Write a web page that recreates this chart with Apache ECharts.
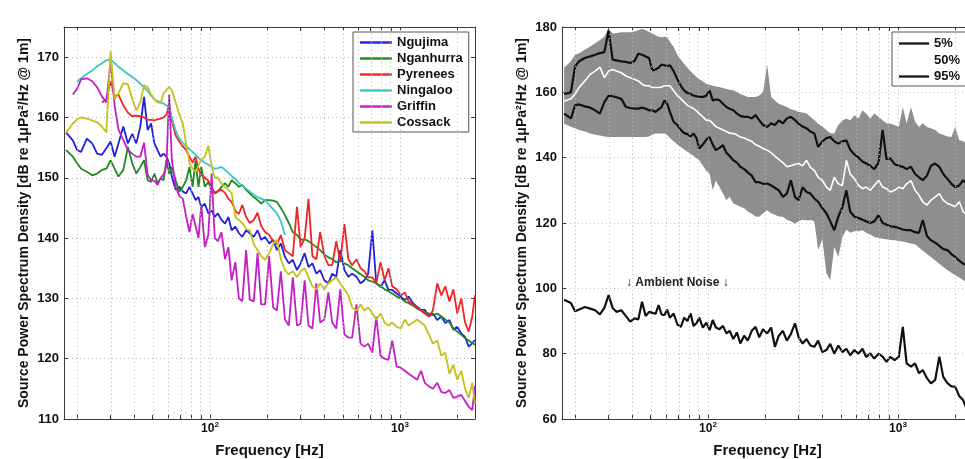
<!DOCTYPE html>
<html><head><meta charset="utf-8">
<script src="https://cdn.jsdelivr.net/npm/echarts@6.0.0/dist/echarts.min.js"></script>
<style>html,body{margin:0;padding:0;background:#fff}#c{width:965px;height:459px}</style>
</head><body><div id="c"></div>
<script>
// ---------- data ----------
const freq = [17.5,19,20,21,22.5,24,25.5,27,28.5,30, 31.5,33,35,37,39,41,43,45,47,49,
  51,53,55,57,59,61,63,66,69,72, 75,78,81,84,87,90,94,98,102,106,
  110,115,120,125,130,136,142,148,155,162, 170,178,186,195,205,215,225,236,248,260,
  273,287,300,315,330,346,363,380,400,420, 440,462,485,510,535,560,590,620,650,680,
  715,750,790,830,870,910,960,1010,1060,1110, 1170,1230,1290,1350,1420,1490,1570,1650,1730,1820,
  1910,2000,2100,2200,2300,2400,2480];

const ngujima = [157.5,156.2,154.6,154.3,156.5,155.7,154,153.8,154.9,156,
  153.5,155.7,158.5,155.7,157.3,155.7,158.5,163.4,157.9,159,
  155.7,154.6,153.5,154,153.5,152.4,150.2,148,148.5,147.7,
  147.4,148.5,147.4,146.3,146.8,145.1,145.7,144.1,144.6,143.5,
  144.1,143,142.4,143.5,141.3,141.9,140.8,140.2,141.3,140.8,
  140.2,141.3,139.7,140.2,139.1,139.7,138,139.1,136.9,135.8,
  136.4,134.7,135.8,137.5,135.2,135.8,134.1,134.7,133,132.5,
  134.1,133.6,138,134.7,133.6,134.1,133.6,132.5,133,134.1,
  141.3,132.5,131.9,133,131.4,131.4,130.8,130.3,129.7,130.3,
  129.2,128.6,128.1,128.1,127,127.5,126.4,127,125.9,126.4,
  124.8,125.3,124.2,123.6,122,122.6,123.1];

const nganhurra = [154.6,153.5,152.4,151.5,151,150.4,150.7,151.3,151.5,152.9,
  151.5,150.2,151.3,155.1,152.4,150.7,151.8,152.9,149.6,149.3,
  150.7,149.1,149.9,149.6,152.9,150.7,151.8,149.6,147.7,148.5,
  149.6,151.8,148.5,152.9,148.5,151.8,148.5,149.3,148,147.4,
  147.7,148.5,149.1,148.5,149.6,149.1,148.5,148.8,148,147.4,
  146.8,146.3,145.7,146.3,146.3,146.2,146,145,143.8,142.5,
  141,140.5,139.7,139.8,139.5,139,138.5,138,137.3,136.8,
  136.5,136,136.3,135.8,135.5,135,134.5,134,133.6,133,
  132.8,132.5,132,131.5,131.2,130.8,130.3,130,129.5,129.2,
  128.8,128.3,128,127.7,127.5,127.2,127.5,127,126.5,126,
  125,124.5,124,123.4,123,122.6,122.3];

const pyrenees = [null,null,null,null,null,null,null,162.5,163,166,
  163.5,163.8,162,160.8,160.2,160.3,160.2,160,159.6,159.6,
  159.5,159.7,159.8,160,160.5,162,159.5,157,156,155.2,
  154.6,153.5,152.5,153.5,151.5,150.5,150,149.5,148.5,147.5,
  147.8,148,147.5,146.5,146,144.5,144,145.5,143.5,142.5,
  143,144.2,142,141,140.5,139.5,139,140.5,138,137.5,
  137,145.2,138.5,140,146.5,137,136.5,141,137,135.5,
  135.5,139.5,136,142.3,136.5,135.5,136.5,135,134.5,133.5,
  133.5,132.5,136,133,135,132,131.5,130.5,131,129.5,
  129,128.5,128,127.5,127,128,132.5,130.5,132,129.5,
  131.5,127.5,130,126,124.5,127,130.5];

const ningaloo = [null,null,165.9,166.5,167.2,167.8,168.5,169,169.5,169.6,
  169,168.4,167.8,167.2,166.7,166.2,165.6,165,164.4,163.6,
  163,162.7,162.5,162.3,162,161.8,160,157.8,156.5,155.8,
  155.2,154.8,154.3,153.8,153.3,152.9,152.5,152.2,151.8,151.5,
  151.6,151.8,151.3,150.8,150.3,149.8,149.1,148.7,148.2,147.7,
  147.2,146.8,146.5,146.3,145.5,144.8,144.1,142.8,140.5,null,
  null,null,null,null,null,null,null,null,null,null,
  null,null,null,null,null,null,null,null,null,null,
  null,null,null,null,null,null,null,null,null,null,
  null,null,null,null,null,null,null,null,null,null,
  null,null,null,null,null,null,null];

const griffin = [null,163.8,164.8,166.3,166.5,166,165,163.5,162.5,169.3,
  162,158,156.3,154.6,154,153.5,153.5,155.8,150.5,149.6,
  149.5,148.8,150,150.5,152,163.8,153,148.5,147,146.5,
  143.5,141,144,142,140,145.5,138.5,140.5,150.7,140,
  139.5,141,136.5,138.5,133,136,130,129.5,138,129.8,
  129.5,137.5,129,129,137,128.5,128,134.5,126.5,125.5,
  133.5,125.5,125.8,133,125.5,125,132.5,126,126.5,131,
  126,125,131.5,124,123.5,123.5,129,122.5,122,122.5,
  121,127,120.5,120,119.8,123,118.7,118.5,118,117.5,
  117,116.5,118,116,115.4,115,116,114.5,114.3,114.8,
  113.5,113.7,114,113,112,111.5,115.5];

const cossack = [157.5,159,159.7,160,159.8,159.5,159.2,158.5,157.5,171,
  163,164,165.7,165.5,163,161.2,162.5,165.4,165,163.8,
  163,162.5,162.4,164,164.5,165.1,164.5,162.5,160.5,159,
  155.5,152.5,151.5,151,152,153,153.5,155.3,152,150,
  150,149,148.5,148,147.5,143.5,143,142.5,141.5,141.3,
  139,138,137,136.4,137.5,139,139.7,136.5,134.7,134,
  134.5,133.5,134.5,135,133.5,132,131.5,132.5,131.5,132.5,
  133,133.5,132.5,131.5,130.5,128.5,128,129,128,128.5,
  127.5,126.5,127.5,126,125.5,126,125.3,125,126.5,125.5,
  126,126.5,126,125.5,124,122.5,123,120.5,121,117.5,
  119,116.5,118,115,113.5,116,112.5];

const p95 = [159.5,160,168,169.5,170.5,171,171.5,172,172.3,179,
  170,169.8,169.5,169.3,169,169.5,171.8,171.5,171,170.5,
  166.7,167,167.5,168.5,168.3,168,168.3,166.5,164,162,
  160.5,159.8,159.5,159,158.8,158.6,158.6,159,160.6,157.5,
  157.8,157.6,156.5,155.5,155,154.5,153.5,152.8,152.5,152.5,
  152,153,151.5,150,149.4,150.5,150,151.4,150.5,152,
  152.5,151.5,150.4,149.5,149,148,147.4,143.3,145,146,
  146.3,145,144.3,145,145.3,142.5,141,140,138.8,138.2,
  137.5,136.5,138.5,148.5,139.5,139.8,138,137.5,137.2,136.5,
  137.2,135,134,133.1,134.5,137.5,138.2,137.2,135,133.5,
  132,131,131.5,133.1,132,131,130.5];

const p50 = [157.3,158,159.5,161.5,163.5,165.5,166.5,167.7,164.5,166.5,
  167,166.5,166,165,164.5,164,163.5,162.5,162,162,
  161.5,161.5,161.5,161.6,162,162,162,160.5,159,158,
  157,156,155.5,155,154.3,153.5,152.5,151.5,151.4,150.5,
  149.5,149,148.5,148,147.5,147.4,147,146.3,146,145.5,
  145,144,143.5,142.8,142.3,141.5,140.5,139.5,138.5,137.2,
  137.5,138,138.2,137.5,139.2,137,136.1,134,133,131,
  130,134,132,131.5,139.2,135,133.5,131.5,130.5,131,
  130,131.5,133,131,130.5,129.5,130,131,130.5,132,
  133,130,128.5,126.5,125.5,127,128,129,127,126,
  125.5,125,126.5,123.5,122.5,121.5,121];

const p5 = [153.5,152,156,156.3,155.7,155.3,154.5,153.5,157,159,
  158.8,158.5,158,155.5,155.2,155,155,155.3,155,154.5,
  154.5,154,154.8,155.5,157.5,156.5,154,151,150,148.5,
  147.5,147.2,146.5,147.4,146,142.8,144,145.5,146.3,144,
  142.3,143,143.8,141.5,140.5,139.2,138.5,137.2,136.5,135.5,
  134.5,132.5,132.5,132,132.1,131.5,130.8,130,128,129,
  133.1,128,127,131,129.5,129,127.5,126.5,124.5,123,
  120.5,117.8,121.9,124.9,130,123.5,121.9,121.5,121,120.5,
  120,120.5,122.4,120,119.5,119,118.8,118.5,118,117.8,
  117.8,117.2,117,120.9,116,114.7,114,113,112,111.7,
  110.5,109.6,108.5,107.6,107,106.5,106];

const bandMax = [167.5,169.5,171.5,172,173,174,175,176,177,179.5,
  178,178.2,178.4,178.4,178.4,178.6,179,179.5,179,178.5,
  178,177.5,177,176.9,177,176.9,175.5,173.9,171.5,170,
  168.7,167.5,166.5,165.5,164.7,164,163.3,162.6,162.3,162,
  161.8,161.6,161.3,161,160.8,160.6,160,159.5,159,158.6,
  158.6,158.6,159,160,168.5,158.6,157.5,156.5,156,155.5,
  154.8,154.5,154,153.8,153.5,152.5,151.5,150.4,149.5,148.5,
  147.5,147.4,150,151.4,152,151.4,153,152,154.5,153.5,
  152,153.5,152.5,151.4,150.5,150.4,150,149.4,155.5,150.5,
  155.5,151,149.4,150.5,149.4,149,148.5,147.4,147,146.5,
  146.3,149.4,145.3,145,144.5,144,144];

const bandMin = [150.4,149.5,149,148.5,148,147.4,147,146.8,146.5,146.3,
  146.3,146.3,146.3,146.3,146.3,146.3,146.3,146.3,146.3,146.5,
  147,147.4,147.4,147.4,147.4,147,146,145,144,143.3,
  142.5,141.8,141.2,140.5,139.8,139.2,137.5,136,135.1,130,
  133,131,129,127,128,126,125.5,125,124.5,123.5,
  122.8,122,121.9,123,123.9,123,122.5,122,121.9,121,
  120.5,119.8,120.5,121,120.8,120.9,120.5,111.7,115,104.6,
  102.5,112.7,109.6,115.7,118,117,117.5,117.5,117.8,117,
  116.5,115.7,115.5,115.2,115,114.8,114.7,114.5,114.3,114,
  113.7,113.5,112.5,111.5,110.5,109.6,108.5,107.5,106.5,105.6,
  104.8,104,103.3,102.5,102,101.5,101];

const ambient = [96.5,95.5,93,93.5,94.3,93.8,93.3,92,94,97.9,
  94,92.8,93.3,91.5,89.8,90.8,90.5,95.9,91.5,92.8,
  92.5,92.2,94.9,92,91.8,93.5,91,92.3,89,88.2,
  91,90,92.3,88.5,89.3,91,88,89.5,87.2,90.3,
  88,87.5,88.5,86.2,87,84.5,86.5,83.1,85.5,84,
  87,88.2,85,87.5,86.2,88,82.1,85.5,87,84,
  86,89.3,85,83.1,84.5,82.5,82.1,84,80.5,81.1,
  83,80,82.5,80.5,81.5,79.5,81.1,80,81.5,79,
  80.1,78.5,80,79.1,77.5,79,78,79,88.2,77,
  76,77,74,75,72.5,70.9,72,79.1,72.9,71,
  70,69.9,67,65.8,63,64,62];

const leftNames = ['Ngujima','Nganhurra','Pyrenees','Ningaloo','Griffin','Cossack'];
const leftSeriesValues = [ngujima, nganhurra, pyrenees, ningaloo, griffin, cossack];
const rightNames = ['5%','50%','95%'];
const xLabelFreqs = [100, 1000];
const gridFreqs = [20,30,40,50,60,70,80,90,100,200,300,400,500,600,700,800,900,1000,2000];
const ambientLabel = {text: '\u2193 Ambient Noise \u2193', freq: 69, value: 101.6};

// ---------- styling ----------
const FONT = "'Liberation Sans', Arial, Helvetica, sans-serif";
const leftColors = ['#2020e0','#1e8a1e','#f02424','#38c6c6','#c41ec4','#c2c21a'];
const AX = '#3a3a3a';
const L = Math.log10;
const fMin = 17.06, fMax = 2481;
const xy = vals => freq.map((f, i) => [L(f), vals[i]]).filter(p => p[1] != null);
// value-first pairs (stacking uses the first numeric dimension)
const yx = vals => freq.map((f, i) => [vals[i], L(f)]);
const LEG_ICON = 'path://M0,0H32V2.4H0Z';

function xAxes(gridIndex) {
  const common = {
    type: 'value', gridIndex, min: L(fMin), max: L(fMax),
    axisLine: {show: true, onZero: false, lineStyle: {color: AX, width: 1}},
    axisTick: {show: true, inside: true, length: 4, customValues: gridFreqs.map(L), lineStyle: {color: AX}},
    splitLine: {show: false}
  };
  return [
    Object.assign({}, common, {
      position: 'bottom',
      axisLabel: {
        customValues: xLabelFreqs.map(L), margin: 2,
        formatter: v => '{a|10}{b|' + Math.round(v) + '}',
        rich: {
          a: {fontSize: 12, fontWeight: 'bold', color: '#111', lineHeight: 15, fontFamily: FONT},
          b: {fontSize: 8, fontWeight: 'bold', color: '#111', lineHeight: 5, verticalAlign: 'top', fontFamily: FONT}
        }
      },
      name: 'Frequency [Hz]', nameLocation: 'middle', nameGap: 24,
      nameTextStyle: {fontSize: 15, fontWeight: 'bold', color: '#111', fontFamily: FONT}
    }),
    Object.assign({}, common, {position: 'top', axisLabel: {show: false}})
  ];
}
function yAxes(gridIndex, min, max, interval) {
  const common = {
    type: 'value', gridIndex, min, max, interval,
    axisLine: {show: true, onZero: false, lineStyle: {color: AX, width: 1}},
    axisTick: {show: true, inside: true, length: 4, lineStyle: {color: AX}}
  };
  return [
    Object.assign({}, common, {
      position: 'left',
      axisLabel: {fontSize: 13, fontWeight: 'bold', color: '#111', margin: 5, showMaxLabel: max % interval === 0, fontFamily: FONT},
      splitLine: {show: true, lineStyle: {color: '#bdbdbd', type: [1, 3], width: 1}},
      name: 'Source Power Spectrum Density [dB re 1\u03bcPa\u00b2/Hz @ 1m]',
      nameLocation: 'middle', nameGap: 33, nameRotate: 90,
      nameTextStyle: {fontSize: 14, fontWeight: 'bold', color: '#111', fontFamily: FONT}
    }),
    Object.assign({}, common, {position: 'right', axisLabel: {show: false}, splitLine: {show: false}})
  ];
}
function gridLineSeries(axisIndex) {
  return {
    type: 'line', xAxisIndex: axisIndex, yAxisIndex: axisIndex, data: [], z: 1, silent: true,
    markLine: {
      symbol: 'none', silent: true, animation: false, label: {show: false},
      lineStyle: {color: '#bdbdbd', type: [1, 3], width: 1},
      emphasis: {disabled: true},
      data: gridFreqs.map(f => ({xAxis: L(f)}))
    }
  };
}

const series = [gridLineSeries(0)];
leftNames.forEach((name, i) => {
  series.push({
    type: 'line', name, xAxisIndex: 0, yAxisIndex: 0, data: xy(leftSeriesValues[i]),
    symbol: 'none', z: 3, silent: true,
    lineStyle: {color: leftColors[i], width: 1.8}, itemStyle: {color: leftColors[i]}
  });
});
series.push(gridLineSeries(2));
series.push({
  type: 'line', xAxisIndex: 2, yAxisIndex: 2, data: yx(bandMin), encode: {x: 1, y: 0},
  stack: 'band', symbol: 'none', z: 2, silent: true, lineStyle: {opacity: 0}
});
series.push({
  type: 'line', xAxisIndex: 2, yAxisIndex: 2,
  data: freq.map((f, i) => [bandMax[i] - bandMin[i], L(f)]), encode: {x: 1, y: 0},
  stack: 'band', symbol: 'none', z: 2, silent: true, lineStyle: {opacity: 0},
  areaStyle: {color: '#8e8e8e', opacity: 1}
});
const rightVals = [p5, p50, p95];
const rightColors = ['#111111', '#ffffff', '#111111'];
rightNames.forEach((name, i) => {
  series.push({
    type: 'line', name, xAxisIndex: 2, yAxisIndex: 2, data: xy(rightVals[i]),
    symbol: 'none', z: 3, silent: true,
    lineStyle: {color: rightColors[i], width: i === 1 ? 1.6 : 2.2}, itemStyle: {color: rightColors[i]}
  });
});
series.push({
  type: 'line', xAxisIndex: 2, yAxisIndex: 2, data: xy(ambient),
  symbol: 'none', z: 3, silent: true, lineStyle: {color: '#111', width: 2.2},
  markPoint: {
    symbol: 'rect', symbolSize: 1, itemStyle: {color: 'rgba(0,0,0,0)'}, silent: true, animation: false,
    label: {show: true, position: 'inside', formatter: ambientLabel.text, fontSize: 12, fontWeight: 'bold', color: '#222', fontFamily: FONT},
    data: [{coord: [L(ambientLabel.freq), ambientLabel.value]}]
  }
});

const legendCommon = {
  orient: 'vertical', itemHeight: 14, selectedMode: false, icon: LEG_ICON,
  itemStyle: {borderWidth: 0},
  borderColor: '#555', borderWidth: 1, backgroundColor: '#fff',
  textStyle: {fontSize: 13, fontWeight: 'bold', color: '#111', fontFamily: FONT}
};

const option = {
  animation: false,
  textStyle: {fontFamily: FONT},
  grid: [
    {left: 64, top: 27, width: 411, height: 392, outerBoundsMode: 'none', containLabel: false},
    {left: 562, top: 27, width: 411, height: 392, outerBoundsMode: 'none', containLabel: false}
  ],
  xAxis: [...xAxes(0), ...xAxes(1)],
  yAxis: [...yAxes(0, 110, 175, 10), ...yAxes(1, 60, 180, 20)],
  legend: [
    Object.assign({}, legendCommon, {data: leftNames, left: 353, top: 32, itemWidth: 32, itemGap: 3, padding: [4, 6, 3, 7]}),
    Object.assign({}, legendCommon, {data: rightNames, left: 892, top: 32, itemWidth: 30, itemGap: 3.5, padding: [5, 30, 3, 7]})
  ],
  series
};
const chart = echarts.init(document.getElementById('c'), null, {renderer: 'canvas'});
chart.setOption(option);
</script>
</body></html>
